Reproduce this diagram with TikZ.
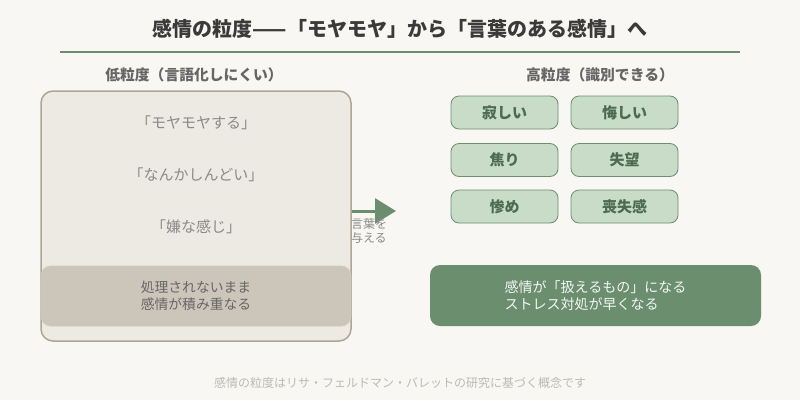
\documentclass[tikz,border=0pt]{standalone}
\usepackage{fontspec}
\setmainfont{Noto Sans CJK JP}
\usetikzlibrary{arrows.meta}

\definecolor{paper}{HTML}{F8F7F3}
\definecolor{inkdark}{HTML}{3A3A3A}
\definecolor{inkgray}{HTML}{666666}
\definecolor{inklight}{HTML}{8A8A8A}
\definecolor{inkfaint}{HTML}{BDBAB4}
\definecolor{sage}{HTML}{6B8E6F}
\definecolor{sagelight}{HTML}{C8DCC8}
\definecolor{sagedark}{HTML}{4C6B50}
\definecolor{fogfill}{HTML}{EDE9E3}
\definecolor{fogline}{HTML}{ADA596}
\definecolor{mudfill}{HTML}{CCC5BA}

\tikzset{
  titletext/.style={font=\bfseries\fontsize{20}{24}\selectfont, text=inkdark},
  heading/.style={font=\bfseries\fontsize{14.8}{17}\selectfont, text=inkgray},
  vague/.style={font=\fontsize{15}{18}\selectfont, text=inklight},
  fogbox/.style={draw=fogline, fill=fogfill, line width=1.5pt, rounded corners=12pt,
    minimum width=310pt, minimum height=250pt},
  mudbox/.style={draw=fogline!60, fill=mudfill, line width=0.8pt, rounded corners=10pt,
    minimum width=310pt, minimum height=60pt, align=left,
    font=\fontsize{13.8}{17}\selectfont, text=inkgray},
  emobox/.style={draw=sage, fill=sagelight, line width=0.8pt, rounded corners=8pt,
    minimum width=107pt, minimum height=33pt, text=sagedark,
    font=\bfseries\fontsize{15}{18}\selectfont},
  resultbox/.style={fill=sage, rounded corners=10pt, minimum width=331pt,
    minimum height=61pt, align=left, text=white!92!sage,
    font=\fontsize{14}{17}\selectfont},
  givearrow/.style={sage, line width=3pt, -{Triangle[length=21pt,width=25pt]}},
  givelabel/.style={font=\fontsize{12}{16}\selectfont, text=inklight, align=left},
  foot/.style={font=\fontsize{12}{14}\selectfont, text=inkfaint}
}

\begin{document}
\begin{tikzpicture}[x=1pt,y=-1pt]
  \fill[paper] (0,0) rectangle (800,400);
  \useasboundingbox (0,0) rectangle (800,400);

  % title and rule
  \node[titletext] (title) at (400,29) {感情の粒度——「モヤモヤ」から「言葉のある感情」へ};
  \draw[sage, line width=2pt] (60,52) -- (740,52);

  % low granularity side
  \node[heading] (lowhead) at (194,75) {低粒度（言語化しにくい）};
  \node[fogbox] (lowbox) at (196,216) {};
  \node[vague] (moya) at (196,123) {「モヤモヤする」};
  \node[vague] (shindoi) at (196,175) {「なんかしんどい」};
  \node[vague] (iya) at (196,227) {「嫌な感じ」};
  \node[mudbox] (pileup) at (196,296) {処理されないまま\\感情が積み重なる};

  % arrow
  \coordinate (give) at (396,211);
  \draw[givearrow] (lowbox.east |- give) -- (give);
  \node[givelabel] (givetext) at (369,231) {言葉を\\[-2pt]与える};

  % high granularity side
  \node[heading] (highhead) at (600,75) {高粒度（識別できる）};
  \node[emobox] (sabishii) at (504.5,112.5) {寂しい};
  \node[emobox] (kuyashii) at (624.5,112.5) {悔しい};
  \node[emobox] (aseri) at (504.5,160) {焦り};
  \node[emobox] (shitsubou) at (624.5,160) {失望};
  \node[emobox] (mijime) at (504.5,206.5) {惨め};
  \node[emobox] (soushitsu) at (624.5,206.5) {喪失感};
  \node[resultbox] (result) at (595.5,295.5) {感情が「扱えるもの」になる\\ストレス対処が早くなる};

  % footnote
  \node[foot] (note) at (400,383) {感情の粒度はリサ・フェルドマン・バレットの研究に基づく概念です};
\end{tikzpicture}
\end{document}
